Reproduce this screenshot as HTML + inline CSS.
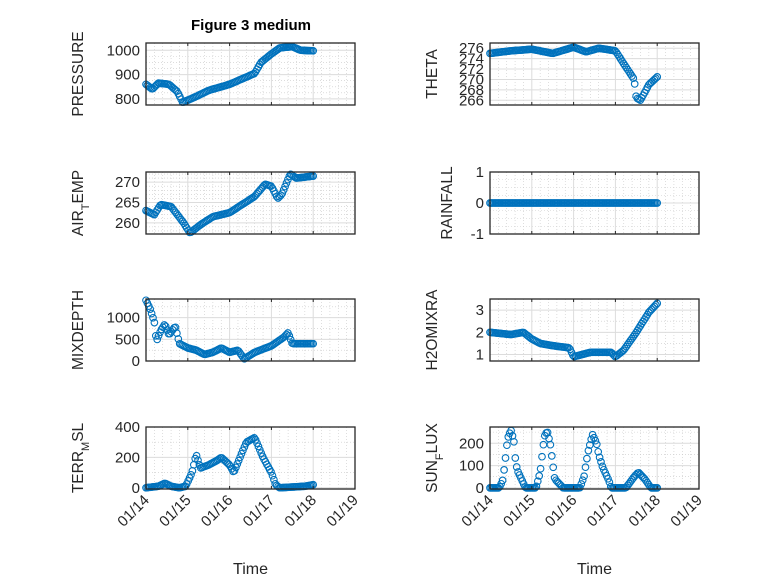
<!DOCTYPE html>
<html><head><meta charset="utf-8"><style>
body{margin:0;background:#fff;width:778px;height:583px;overflow:hidden}
svg text{font-family:"Liberation Sans","DejaVu Sans",sans-serif;fill:#262626}
</style></head><body>
<svg id="s" width="778" height="583" xmlns="http://www.w3.org/2000/svg"></svg>
<script>
const S=document.getElementById('s');let h='';
const C='#0072BD';
function interp(k,t){for(let i=0;i<k.length-1;i++){if(t>=k[i][0]&&t<=k[i+1][0]){const f=(t-k[i][0])/(k[i+1][0]-k[i][0]);return k[i][1]+f*(k[i+1][1]-k[i][1]);}}return k[k.length-1][1];}
function panel(x0,y0,ymin,ymax,yt,ylab,keys,minorY,lbx,dates){
 const w=209,hh=62,sx=d=>x0+d*w/5,sy=v=>y0+hh-(v-ymin)/(ymax-ymin)*hh;
 for(let i=0;i<25;i++){if(i%5==0)continue;const x=x0+i*w/25;h+=`<line x1="${x}" y1="${y0}" x2="${x}" y2="${y0+hh}" stroke="#c8c8c8" stroke-width="0.6" stroke-dasharray="1,2"/>`;}
 for(const v of minorY){const y=sy(v);if(y>y0&&y<y0+hh)h+=`<line x1="${x0}" y1="${y}" x2="${x0+w}" y2="${y}" stroke="#c8c8c8" stroke-width="0.6" stroke-dasharray="1,2"/>`;}
 for(let i=1;i<5;i++){const x=sx(i);h+=`<line x1="${x}" y1="${y0}" x2="${x}" y2="${y0+hh}" stroke="#dcdcdc" stroke-width="1"/>`;}
 for(const v of yt){const y=sy(v);h+=`<line x1="${x0}" y1="${y}" x2="${x0+w}" y2="${y}" stroke="#dcdcdc" stroke-width="1"/><text x="${x0-6}" y="${y+5}" font-size="15" text-anchor="end">${v}</text>`;}
 const n=120;for(let i=0;i<n;i++){const d=i*4/(n-1);const v=interp(keys,d);h+=`<circle cx="${sx(d).toFixed(1)}" cy="${sy(v).toFixed(1)}" r="3.3" fill="none" stroke="${C}" stroke-width="1.1"/>`;}
 h+=`<rect x="${x0}" y="${y0}" width="${w}" height="${hh}" fill="none" stroke="#262626" stroke-width="1.3"/>`;
 for(let i=0;i<=5;i++){const x=sx(i);h+=`<line x1="${x}" y1="${y0}" x2="${x}" y2="${y0+3}" stroke="#262626"/><line x1="${x}" y1="${y0+hh}" x2="${x}" y2="${y0+hh-3}" stroke="#262626"/>`;}
 h+=`<text transform="translate(${lbx},${y0+hh/2}) rotate(-90)" font-size="15.5" text-anchor="middle">${ylab}</text>`;
 if(dates){for(let i=0;i<=5;i++){const x=sx(i);h+=`<text transform="translate(${x+4},${y0+hh+12}) rotate(-45)" font-size="15" text-anchor="end">01/${14+i}</text>`;}
  h+=`<text x="${x0+w/2}" y="574" font-size="16" text-anchor="middle">Time</text>`;}
}
const L=146,R=490,rows=[43,172,299,427];
panel(L,rows[0],775,1030,[800,900,1000],'PRESSURE',[[0,860],[0.15,840],[0.3,865],[0.55,860],[0.75,830],[0.88,785],[1.0,795],[1.2,810],[1.5,835],[2,860],[2.4,890],[2.6,905],[2.75,950],[3.0,985],[3.2,1010],[3.5,1015],[3.7,1000],[4,998]],[825,850,875,925,950,975],83);
panel(R,rows[0],265.1,277,[266,268,270,272,274,276],'THETA',[[0,275],[0.5,275.5],[1,275.8],[1.5,275],[2,276.2],[2.3,275.3],[2.6,276],[3.0,275.5],[3.2,273],[3.45,270],[3.5,266.5],[3.6,266],[3.8,269],[4,270.5]],[],437);
panel(L,rows[1],257.25,272.5,[260,265,270],'AIR<tspan baseline-shift="sub" font-size="11">T</tspan>EMP',[[0,263],[0.2,262],[0.35,264.5],[0.6,264],[0.9,260],[1.05,257.5],[1.3,259.5],[1.6,261.5],[2,262.5],[2.3,264.5],[2.6,266.5],[2.85,269.5],[3.0,269],[3.15,266],[3.25,267],[3.45,272],[3.6,271],[4,271.5]],[258,259,261,262,263,264,266,267,268,269,271,272],83);
panel(R,rows[1],-1,1,[-1,0,1],'RAINFALL',[[0,0],[4,0]],[-0.75,-0.5,-0.25,0.25,0.5,0.75],452);
panel(L,rows[2],0,1430,[0,500,1000],'MIXDEPTH',[[0,1400],[0.1,1200],[0.2,900],[0.25,450],[0.35,700],[0.45,850],[0.55,600],[0.7,800],[0.8,400],[1.0,300],[1.2,250],[1.4,150],[1.6,200],[1.8,300],[2.0,200],[2.2,250],[2.35,50],[2.6,200],[3,350],[3.3,550],[3.4,650],[3.5,400],[4,400]],[250,750,1250],83);
panel(R,rows[2],0.71,3.5,[1,2,3],'H2OMIXRA',[[0,2],[0.5,1.9],[0.8,2],[1.0,1.7],[1.2,1.5],[1.5,1.4],[1.9,1.3],[2.0,0.9],[2.2,1.0],[2.4,1.1],[2.9,1.1],[3.0,0.9],[3.2,1.2],[3.5,2],[3.8,2.9],[4,3.3]],[1.5,2.5],437);
panel(L,rows[3],-8,400,[0,200,400],'TERR<tspan baseline-shift="sub" font-size="11">M</tspan>SL',[[0,0],[0.3,10],[0.45,30],[0.6,10],[0.8,0],[0.95,10],[1.1,100],[1.2,220],[1.3,130],[1.5,150],[1.7,180],[1.8,200],[2.0,150],[2.1,100],[2.4,300],[2.6,330],[2.8,200],[3.0,100],[3.1,20],[3.2,0],[3.8,10],[4,20]],[100,300],83,true);
panel(R,rows[3],-5,273,[0,100,200],'SUN<tspan baseline-shift="sub" font-size="11">F</tspan>LUX',[[0,0],[0.22,0],[0.3,30],[0.35,100],[0.42,220],[0.5,260],[0.57,210],[0.6,140],[0.65,80],[0.75,40],[0.85,0],[1.1,0],[1.2,70],[1.25,150],[1.3,230],[1.37,255],[1.45,190],[1.5,110],[1.55,40],[1.75,0],[2.15,0],[2.25,50],[2.3,110],[2.35,165],[2.45,240],[2.55,200],[2.6,150],[2.7,90],[2.85,30],[2.9,0],[3.25,0],[3.45,50],[3.55,70],[3.7,40],[3.85,0],[4,0]],[50,150,250],437,true);
h+=`<text x="251" y="30" font-size="15" font-weight="bold" text-anchor="middle" style="fill:#000">Figure 3 medium</text>`;
S.innerHTML=h;
</script>
</body></html>
